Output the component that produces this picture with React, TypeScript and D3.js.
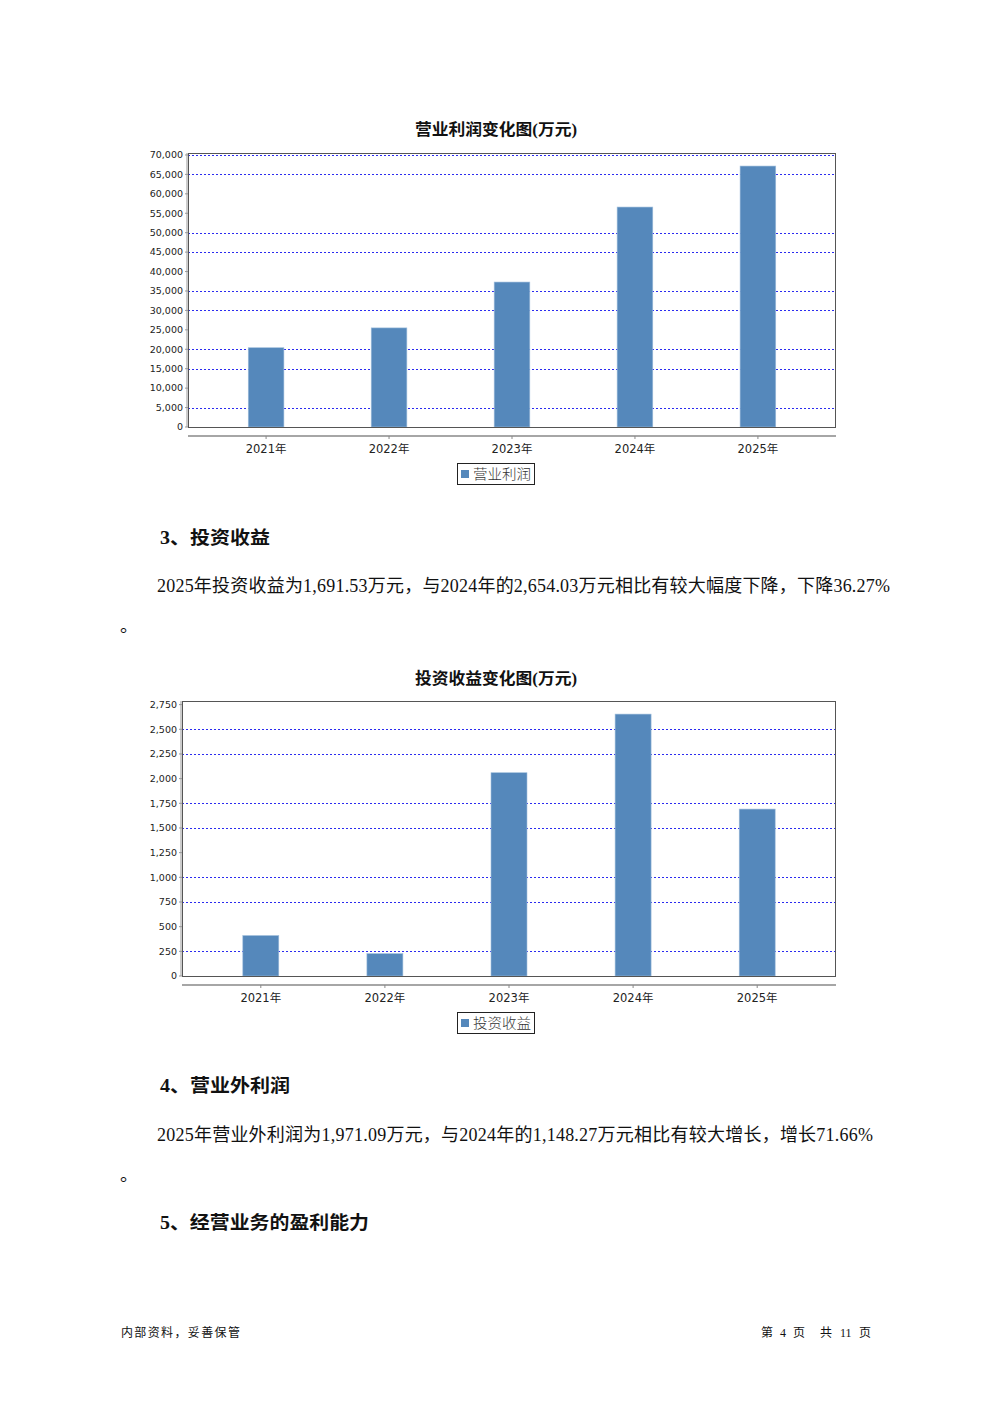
import React from "react";
import * as d3 from "d3";

const years = ["2021年", "2022年", "2023年", "2024年", "2025年"];
const operatingProfit = [20400, 25500, 37300, 56600, 67150];
const investmentIncome = [410, 227, 2060, 2654.03, 1691.53];
const opTicks = [0, 5000, 10000, 15000, 20000, 25000, 30000, 35000, 40000, 45000, 50000, 55000, 60000, 65000, 70000];
const opGrid = [5000, 15000, 20000, 30000, 35000, 45000, 50000, 65000, 70000];
const invTicks = [0, 250, 500, 750, 1000, 1250, 1500, 1750, 2000, 2250, 2500, 2750];
const invGrid = [250, 750, 1000, 1500, 1750, 2250, 2500];

const BAR = "#5588bb";
const CJK = "'Liberation Serif', 'Noto Sans CJK SC', serif";
const SANS = "'DejaVu Sans', 'Noto Sans CJK SC', sans-serif";
const HEAD = "'Liberation Serif', 'Noto Sans CJK SC', sans-serif";

type ChartProps = {
  title: string;
  titleY: number;
  legend: string;
  cats: string[];
  values: number[];
  ticks: number[];
  grid: number[];
  left: number;
  right: number;
  top: number;
  bottom: number;
};

function BarChart(p: ChartProps) {
  const max = (d3.max(p.values) as number) * 1.05;
  const y = d3.scaleLinear().domain([0, max]).range([p.bottom, p.top]);
  const x = d3
    .scaleBand<string>()
    .domain(p.cats)
    .range([p.left, p.right])
    .paddingInner(0.71)
    .paddingOuter(0.49);
  const fmt = d3.format(",");
  const axisY = p.bottom + 9;
  return (
    <g>
      <text x={415} y={p.titleY} fontFamily={HEAD} fontWeight="bold" fontSize={16} fill="#111"
        textLength={162} lengthAdjust="spacingAndGlyphs">
        {p.title}
      </text>
      <rect x={p.left} y={p.top} width={p.right - p.left} height={p.bottom - p.top} fill="#fff" />
      {p.grid.map((v) => (
        <line key={"g" + v} x1={p.left} x2={p.right} y1={Math.round(y(v)) + 0.5} y2={Math.round(y(v)) + 0.5}
          stroke="#2b2bf0" strokeWidth={1} strokeDasharray="2,2" />
      ))}
      {p.values.map((v, i) => (
        <rect key={"b" + i} x={x(p.cats[i])} y={y(v)} width={x.bandwidth()} height={p.bottom - y(v)}
          fill={BAR} stroke="#9fbedc" strokeWidth={0.6} />
      ))}
      <rect x={p.left + 0.5} y={p.top + 0.5} width={p.right - p.left - 1} height={p.bottom - p.top}
        fill="none" stroke="#555" strokeWidth={1} />
      <line x1={p.left - 1} x2={p.left - 1} y1={p.top} y2={p.bottom} stroke="#ccc" strokeWidth={2} />
      {p.ticks.map((v) => (
        <g key={"t" + v}>
          <line x1={p.left - 3} x2={p.left} y1={y(v)} y2={y(v)} stroke="#999" />
          <text x={p.left - 5} y={y(v)} dy="0.35em" textAnchor="end" fontFamily={SANS} fontSize={9.5} fill="#222">
            {fmt(v)}
          </text>
        </g>
      ))}
      <line x1={p.left} x2={p.right} y1={axisY} y2={axisY} stroke="#888" strokeWidth={1.5} />
      {p.cats.map((c) => {
        const xc = (x(c) as number) + x.bandwidth() / 2;
        return (
          <g key={"c" + c}>
            <line x1={xc} x2={xc} y1={axisY} y2={axisY + 3} stroke="#888" />
            <text x={xc} y={axisY + 17} textAnchor="middle" fontFamily={SANS} fontSize={11.5} fill="#222">
              {c}
            </text>
          </g>
        );
      })}
      <g>
        <rect x={457.5} y={axisY + 27.5} width={77} height={21} fill="#fff" stroke="#222" strokeWidth={1} />
        <rect x={461} y={axisY + 34} width={8} height={8} fill={BAR} />
        <text x={473} y={axisY + 43} fontFamily="'Noto Sans CJK SC', sans-serif" fontWeight={300} fontSize={14} fill="#333"
          textLength={58} lengthAdjust="spacingAndGlyphs">
          {p.legend}
        </text>
      </g>
    </g>
  );
}

export default function App() {
  return (
    <svg width={992} height={1403} style={{ position: "absolute", left: 0, top: 0, background: "#fff" }}>
      <rect width={992} height={1403} fill="#fff" />
      <BarChart title="营业利润变化图(万元)" titleY={135} legend="营业利润" cats={years} values={operatingProfit}
        ticks={opTicks} grid={opGrid} left={188} right={836} top={153} bottom={427} />

      <text x={160} y={544} fontFamily={HEAD} fontWeight="bold" fontSize={18} fill="#111"
        textLength={110} lengthAdjust="spacingAndGlyphs">3、投资收益</text>
      <text x={157} y={592} fontFamily={CJK} fontSize={18} fill="#111" textLength={733} lengthAdjust="spacing">
        2025年投资收益为1,691.53万元，与2024年的2,654.03万元相比有较大幅度下降，下降36.27%
      </text>
      <text x={120} y={632} fontFamily={CJK} fontSize={18} fill="#111">。</text>

      <BarChart title="投资收益变化图(万元)" titleY={684} legend="投资收益" cats={years} values={investmentIncome}
        ticks={invTicks} grid={invGrid} left={182} right={836} top={701} bottom={976} />

      <text x={160} y={1092} fontFamily={HEAD} fontWeight="bold" fontSize={18} fill="#111"
        textLength={130} lengthAdjust="spacingAndGlyphs">4、营业外利润</text>
      <text x={157} y={1141} fontFamily={CJK} fontSize={18} fill="#111" textLength={716} lengthAdjust="spacing">
        2025年营业外利润为1,971.09万元，与2024年的1,148.27万元相比有较大增长，增长71.66%
      </text>
      <text x={120} y={1181} fontFamily={CJK} fontSize={18} fill="#111">。</text>
      <text x={160} y={1229} fontFamily={HEAD} fontWeight="bold" fontSize={18} fill="#111"
        textLength={209} lengthAdjust="spacingAndGlyphs">5、经营业务的盈利能力</text>

      <text x={121} y={1337} fontFamily={CJK} fontSize={12} fill="#111" textLength={119} lengthAdjust="spacing">内部资料，妥善保管</text>
      <g fontFamily={CJK} fontSize={12} fill="#111">
        <text x={761} y={1337}>第</text>
        <text x={780} y={1337}>4</text>
        <text x={793} y={1337}>页</text>
        <text x={820} y={1337}>共</text>
        <text x={840} y={1337}>11</text>
        <text x={859} y={1337}>页</text>
      </g>
    </svg>
  );
}
